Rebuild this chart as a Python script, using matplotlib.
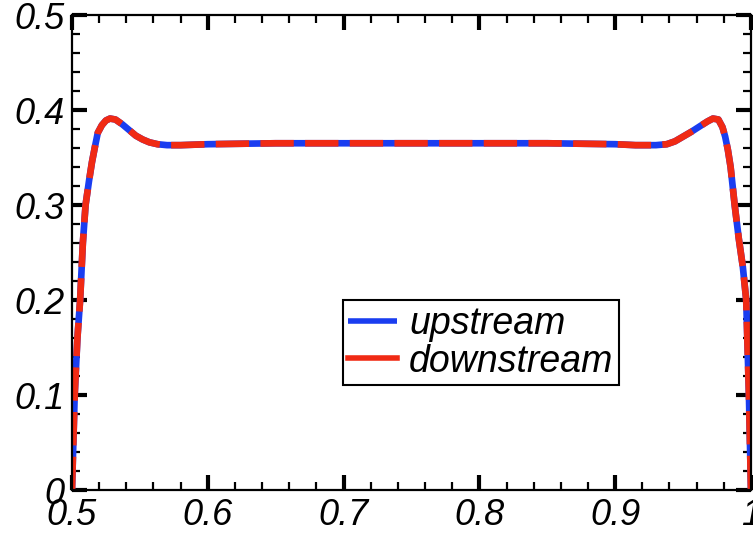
import matplotlib
matplotlib.use("Agg")
import matplotlib.pyplot as plt
from matplotlib.ticker import MultipleLocator, FuncFormatter

# Data
x_up = [0.500, 0.502, 0.504, 0.506, 0.508, 0.510, 0.5125, 0.5147, 0.517, 0.519,
        0.522, 0.525, 0.528, 0.532, 0.537, 0.542, 0.547, 0.552, 0.557, 0.563,
        0.570, 0.580, 0.600, 0.650, 0.700, 0.750, 0.800, 0.850, 0.900, 0.915,
        0.930, 0.938, 0.944, 0.950, 0.956, 0.9625, 0.968, 0.972, 0.976, 0.979,
        0.981, 0.983, 0.985, 0.988, 0.991, 0.994, 0.9965, 0.9985, 1.000]
y_up = [0.000, 0.100, 0.160, 0.200, 0.260, 0.300, 0.325, 0.345, 0.362, 0.376,
        0.384, 0.389, 0.391, 0.390, 0.385, 0.379, 0.373, 0.369, 0.366, 0.364,
        0.363, 0.363, 0.364, 0.365, 0.365, 0.365, 0.365, 0.365, 0.364, 0.363,
        0.363, 0.364, 0.367, 0.372, 0.377, 0.383, 0.388, 0.391, 0.390, 0.382,
        0.372, 0.358, 0.340, 0.300, 0.265, 0.235, 0.200, 0.100, 0.000]
x_down = list(x_up)
y_down = list(y_up)

x_ticks = [0.5, 0.6, 0.7, 0.8, 0.9, 1.0]
y_ticks = [0.0, 0.1, 0.2, 0.3, 0.4, 0.5]
labels = ["upstream", "downstream"]

plt.rcParams['font.family'] = ['Liberation Sans', 'DejaVu Sans']
plt.rcParams['font.style'] = 'italic'

fig = plt.figure(figsize=(7.53, 5.36), dpi=100)
ax = fig.add_axes([0.0956, 0.0858, 0.9017, 0.8862])

ax.plot(x_up, y_up, color='#1a3df0', lw=4.8, solid_capstyle='butt', label=labels[0])
ax.plot(x_down, y_down, color='#f02a14', lw=4.8, dashes=(5.0, 1.7), dash_capstyle='butt',
        label=labels[1])

ax.set_xlim(0.5, 1.0)
ax.set_ylim(0.0, 0.5)
ax.set_xticks(x_ticks)
ax.set_yticks(y_ticks)
fmt = FuncFormatter(lambda v, p: "%g" % round(v, 3))
ax.xaxis.set_major_formatter(fmt)
ax.yaxis.set_major_formatter(fmt)
ax.xaxis.set_minor_locator(MultipleLocator(0.02))
ax.yaxis.set_minor_locator(MultipleLocator(0.02))

ax.tick_params(which='both', direction='in', top=True, right=True, colors='black')
ax.tick_params(which='major', length=11, width=3.0, labelsize=26, pad=5)
ax.tick_params(axis='x', which='major', pad=6)
ax.tick_params(which='minor', length=6, width=1.6)
for lab in ax.get_xticklabels() + ax.get_yticklabels():
    lab.set_fontstyle('italic')
for s in ax.spines.values():
    s.set_linewidth(1.6)
    s.set_color('black')

leg = ax.legend(loc='upper left', bbox_to_anchor=(0.3985, 0.40),
                prop={'style': 'italic', 'size': 27},
                frameon=True, fancybox=False, framealpha=1, edgecolor='black',
                handlelength=1.3, handletextpad=0.32, borderpad=0.15, labelspacing=0.05,
                borderaxespad=0)
leg.get_frame().set_linewidth(1.5)
for h in leg.get_lines():
    h.set_linestyle('-')
    h.set_linewidth(4)

fig.savefig("out.png", dpi=100)
